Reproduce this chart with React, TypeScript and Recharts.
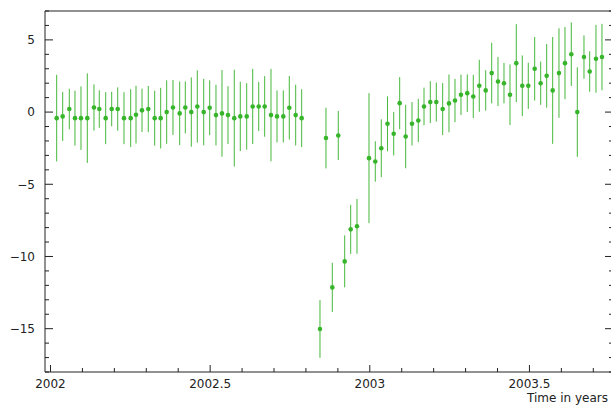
import React from 'react';
import { ScatterChart, Scatter, XAxis, YAxis, ErrorBar } from 'recharts';

// Observation times (decimal years)
const years = [
  2002.0194, 2002.0382, 2002.0589, 2002.0767, 2002.0955, 2002.1153, 2002.1362, 2002.1528, 2002.1729, 2002.1917,
  2002.2105, 2002.2302, 2002.2512, 2002.2678, 2002.2866, 2002.3063, 2002.3263, 2002.3451, 2002.3639, 2002.3836,
  2002.4046, 2002.4222, 2002.4410, 2002.4598, 2002.4798, 2002.4986, 2002.5183, 2002.5371, 2002.5559, 2002.5756,
  2002.5944, 2002.6145, 2002.6333, 2002.6521, 2002.6708, 2002.6906, 2002.7094, 2002.7291, 2002.7479, 2002.7679,
  2002.7867,
  2002.8440, 2002.8628, 2002.8826, 2002.9013, 2002.9214, 2002.9402, 2002.9599,
  2002.9975, 2003.0172, 2003.0360, 2003.0554, 2003.0749, 2003.0936, 2003.1124, 2003.1322, 2003.1519,
  2003.1698, 2003.1895, 2003.2083, 2003.2283, 2003.2480, 2003.2668, 2003.2856, 2003.3053, 2003.3241,
  2003.3429, 2003.3630, 2003.3818, 2003.4015, 2003.4203, 2003.4391, 2003.4588, 2003.4776, 2003.4964,
  2003.5164, 2003.5352, 2003.5540, 2003.5728, 2003.5925, 2003.6113, 2003.6311, 2003.6499, 2003.6708,
  2003.6887, 2003.7084, 2003.7272,
];

// Measured values
const values = [
  -0.42, -0.30, 0.21, -0.42, -0.42, -0.42, 0.32, 0.21, -0.42, 0.21,
  0.21, -0.42, -0.42, -0.18, 0.12, 0.21, -0.42, -0.42, 0, 0.32,
  -0.09, 0.32, 0, 0.39, 0, 0.30, -0.21, -0.09, -0.21, -0.42,
  -0.30, -0.30, 0.39, 0.39, 0.39, -0.21, -0.30, -0.30, 0.30, -0.21,
  -0.42,
  -15.02, -1.80, -12.14, -1.62, -10.34, -8.12, -7.91,
  -3.19, -3.42, -2.50, -0.81, -1.50, 0.62, -1.69, -0.81, -0.58,
  0.39, 0.69, 0.69, 0.21, 0.60, 0.80, 1.20, 1.31, 1.08,
  1.82, 1.50, 2.70, 2.12, 2.00, 1.20, 3.39, 1.82, 1.82,
  3.00, 2.00, 2.51, 1.50, 2.70, 3.39, 4.01, 0, 3.81,
  2.81, 3.69, 3.81,
];

// Symmetric uncertainties
const errors = [
  3.0, 1.7, 1.4, 1.9, 2.2, 3.1, 1.6, 1.3, 1.8, 1.2,
  1.5, 1.8, 2.0, 2.0, 1.5, 1.6, 1.9, 2.1, 2.2, 1.9,
  2.2, 1.8, 2.4, 2.5, 2.3, 1.9, 2.1, 3.0, 2.0, 3.35,
  2.4, 2.3, 2.6, 1.7, 2.1, 3.2, 1.8, 1.8, 2.2, 2.1,
  2.0,
  2.0, 2.1, 1.7, 1.7, 1.8, 1.7, 1.9,
  4.5, 1.4, 2.0, 1.9, 1.5, 1.8, 2.2, 1.5, 1.5,
  1.3, 1.45, 1.35, 1.8, 2.0, 1.5, 1.4, 1.3, 1.5,
  1.8, 1.4, 2.1, 1.7, 1.4, 2.1, 2.7, 2.1, 1.6,
  2.2, 1.5, 2.2, 3.7, 3.1, 2.5, 2.2, 3.1, 1.5,
  1.4, 2.35, 2.3,
];

const xTicks = [
  2002.0, 2002.1, 2002.2, 2002.3, 2002.4, 2002.5, 2002.6, 2002.7, 2002.8, 2002.9,
  2003.0, 2003.1, 2003.2, 2003.3, 2003.4, 2003.5, 2003.6, 2003.7,
];
const yTicks = [-18, -17, -16, -15, -14, -13, -12, -11, -10, -9, -8, -7, -6, -5, -4, -3, -2, -1, 0, 1, 2, 3, 4, 5, 6, 7];

const xDomain = [2001.9828, 2003.7617];
const yDomain = [-18, 7];

const data = years.map((t, i) => ({ t, v: values[i], e: errors[i] }));

const AXIS = '#222';
const FONT = '"DejaVu Sans", sans-serif';
const BAR = '#46b83a';
const DOT = '#36b52a';

const isMajorX = (v: number) => Math.abs(v * 2 - Math.round(v * 2)) < 1e-6;
const isMajorY = (v: number) => Math.abs(v % 5) < 1e-6;
const fmtX = (v: number) => String(Math.round(v * 10) / 10);
const fmtY = (v: number) => (v < 0 ? '\u2212' + String(-v) : String(v));

const BottomTick = (p: any) => {
  const { x, y, payload } = p;
  const major = isMajorX(payload.value);
  return (
    <g>
      <line x1={x} x2={x} y1={y} y2={y - (major ? 7 : 4)} stroke={AXIS} strokeWidth={1} />
      {major && (
        <text x={x} y={y + 16} textAnchor="middle" fontFamily={FONT} fontSize={12} fill={AXIS}>
          {fmtX(payload.value)}
        </text>
      )}
    </g>
  );
};

const TopTick = (p: any) => {
  const { x, y, payload } = p;
  const major = isMajorX(payload.value);
  return <line x1={x} x2={x} y1={y} y2={y + (major ? 7 : 4)} stroke={AXIS} strokeWidth={1} />;
};

const LeftTick = (p: any) => {
  const { x, y, payload } = p;
  const major = isMajorY(payload.value);
  return (
    <g>
      <line x1={x} x2={x + (major ? 8 : 4)} y1={y} y2={y} stroke={AXIS} strokeWidth={1} />
      {major && (
        <text x={x - 10} y={y} dy="0.36em" textAnchor="end" fontFamily={FONT} fontSize={12} fill={AXIS}>
          {fmtY(payload.value)}
        </text>
      )}
    </g>
  );
};

const RightTick = (p: any) => {
  const { x, y, payload } = p;
  const major = isMajorY(payload.value);
  return <line x1={x} x2={x - (major ? 8 : 4)} y1={y} y2={y} stroke={AXIS} strokeWidth={1} />;
};

const Dot = (p: any) => <circle cx={p.cx} cy={p.cy} r={2.3} fill={DOT} />;

export default function App() {
  return (
    <div style={{ position: 'fixed', left: 0, top: 0, width: 611, height: 405, overflow: 'hidden', background: '#fff' }}>
      <ScatterChart width={640} height={405} margin={{ top: 0, right: 0, bottom: 0, left: 0 }}>
        <XAxis
          xAxisId="b"
          dataKey="t"
          type="number"
          domain={xDomain}
          allowDataOverflow
          ticks={xTicks}
          interval={0}
          tickSize={0}
          tickMargin={0}
          height={33}
          axisLine={{ stroke: AXIS }}
          tickLine={false}
          tick={<BottomTick />}
        />
        <XAxis
          xAxisId="t"
          orientation="top"
          type="number"
          domain={xDomain}
          allowDataOverflow
          ticks={xTicks}
          interval={0}
          tickSize={0}
          tickMargin={0}
          height={11}
          axisLine={{ stroke: AXIS }}
          tickLine={false}
          tick={<TopTick />}
        />
        <YAxis
          yAxisId="l"
          dataKey="v"
          type="number"
          domain={yDomain}
          allowDataOverflow
          ticks={yTicks}
          interval={0}
          tickSize={0}
          tickMargin={0}
          width={45}
          axisLine={{ stroke: AXIS }}
          tickLine={false}
          tick={<LeftTick />}
        />
        <YAxis
          yAxisId="r"
          orientation="right"
          type="number"
          domain={yDomain}
          allowDataOverflow
          ticks={yTicks}
          interval={0}
          tickSize={0}
          tickMargin={0}
          width={27}
          axisLine={{ stroke: AXIS }}
          tickLine={false}
          tick={<RightTick />}
        />
        <Scatter xAxisId="b" yAxisId="l" data={data} shape={<Dot />} isAnimationActive={false}>
          <ErrorBar dataKey="e" direction="y" width={0} stroke={BAR} strokeWidth={1} isAnimationActive={false} />
        </Scatter>
        <text x={527} y={402} fontFamily={FONT} fontSize={12} fill={AXIS}>
          Time in years
        </text>
      </ScatterChart>
    </div>
  );
}
